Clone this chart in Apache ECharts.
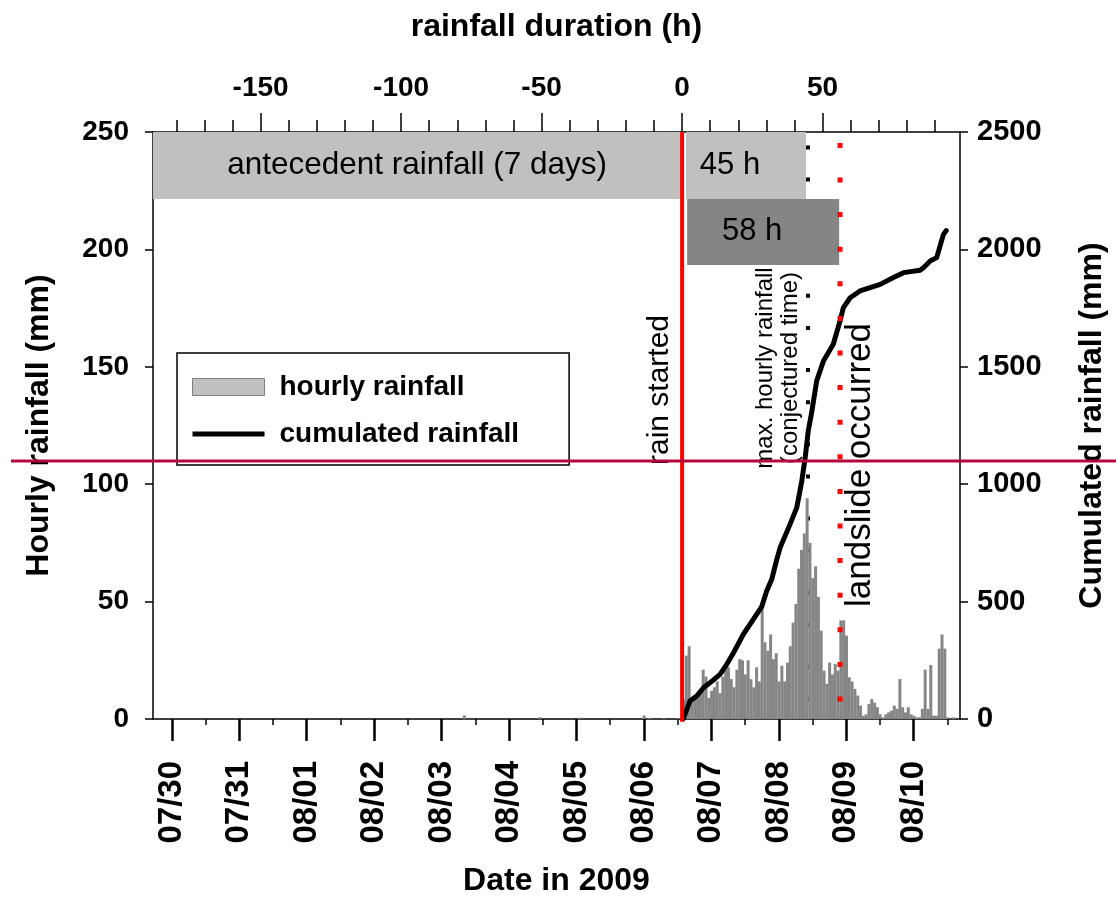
<!DOCTYPE html>
<html><head><meta charset="utf-8">
<script src="https://cdn.jsdelivr.net/npm/echarts@6/dist/echarts.min.js"></script>
<style>html,body{margin:0;padding:0;background:#fff}#c{width:1116px;height:910px}</style>
</head><body><div id="c"></div>
<script>
// ---- data ----
const dateLabels = ['07/30','07/31','08/01','08/02','08/03','08/04','08/05','08/06','08/07','08/08','08/09','08/10'];
const dateTickHours = [0,24,48,72,96,120,144,168,192,216,240,264];          // hours after 07/30 00:00
const halfDayTickHours = [12,36,60,84,108,132,156,180,204,228,252,276];
const durationLabels = [-150,-100,-50,0,50];
const durationMinorTicks = [-180,-170,-160,-140,-130,-120,-110,-90,-80,-70,-60,-40,-30,-20,-10,10,20,30,40,60,70,80,90];
const rainStartHour = 181.6;               // rain start, hours after 07/30 00:00
const durationRange = [-188.3, 98.9];      // visible range, hours relative to rain start
// hourly rainfall (mm), index = hour after rain start
const hourlyRain = [8.5, 27, 31, 8.5, 10, 9, 12, 21, 18, 9,
  12, 13.5, 16, 11, 18, 21, 22, 17, 13.5, 21,
  25.5, 25, 19, 25, 17, 13.5, 22, 16, 50, 32.7,
  29, 36, 25.5, 28, 16, 22.7, 16, 24, 31, 41,
  49, 64, 72, 79, 94, 75, 60, 65, 52, 37.6,
  20.6, 15, 24, 19, 23.4, 20.6, 42, 42, 35.5, 17.8,
  16, 12.8, 10, 5.7, 1.4, 2, 6.4, 8.5, 7, 5,
  2, 0.7, 2, 2.8, 3.5, 5.7, 4.3, 17, 5, 2.8,
  5, 2, 1.4, 0.7, 0.7, 4.3, 21, 4.3, 23, 1.4,
  1.4, 30, 36, 30, 0.7, 0, 0.7];
const antecedentHours = [-78, -51, -37, -14, -12, -7, -2];
const antecedentRain = [1.5, 0.8, 0.6, 1.5, 0.5, 0.3, 0.4];
// cumulated rainfall (mm) vs hours after rain start
const cumHours = [0.4, 2.8, 5.2, 7.6, 10.0, 13.5, 15.9, 18.3, 21.8, 25.4, 28.4, 30.1, 31.9, 33.7, 34.9, 38.4, 40.8, 42.6, 43.8, 44.9, 46.2, 47.9, 50.3, 53.8, 56.2, 57.4, 59.8, 63.3, 66.9, 70.5, 75.2, 78.8, 84.7, 85.9, 88.3, 90.6, 93.0, 94.0];
const cumRain = [0, 77, 98, 133, 155, 190, 233, 282, 361, 425, 480, 545, 595, 680, 730, 829, 900, 1014, 1113, 1227, 1312, 1440, 1525, 1596, 1695, 1752, 1794, 1823, 1837, 1851, 1880, 1901, 1911, 1922, 1951, 1965, 2064, 2080];
const maxHourlyTime = 44.8;
const landslideTime = 56.2;
const anteBox = [-188.3, -0.3, 221.5, 250];
const box45 = [1.4, 44.1, 221.5, 250];
const box58 = [1.8, 55.9, 193.4, 221.5];

// ---- chart ----
const FF = '"Liberation Sans", Arial, sans-serif';
const barData = antecedentHours.map((h, i) => [h + 0.5, antecedentRain[i]])
  .concat(hourlyRain.map((v, i) => [i + 0.5, v]));
const cumData = cumHours.map((h, i) => [h, cumRain[i]]);
const bold = (s) => ({fontSize: s, fontWeight: 'bold', fontFamily: FF, color: '#000'});
const lineBlk = {onZero: false, lineStyle: {color: '#000', width: 1.5}};

const chart = echarts.init(document.getElementById('c'), null, {renderer: 'canvas'});
chart.setOption({
  animation: false,
  backgroundColor: '#fff',
  grid: {left: 153, right: 156, top: 132, bottom: 191, containLabel: false},
  legend: {
    orient: 'vertical', left: 177, top: 353, padding: [20, 50, 17, 15],
    itemWidth: 72, itemHeight: 17, itemGap: 19, selectedMode: false,
    borderColor: '#000', borderWidth: 1.5, backgroundColor: '#fff',
    textStyle: Object.assign(bold(28), {padding: [0, 0, 0, 10]}),
    data: [
      {name: 'hourly rainfall', icon: 'rect', itemStyle: {color: '#c0c0c0', borderColor: '#808080', borderWidth: 1}},
      {name: 'cumulated rainfall', icon: 'path://M0,0H72V5H0Z', itemStyle: {color: '#000', borderWidth: 0}}
    ]
  },
  xAxis: [
    { // bottom: dates
      type: 'value', position: 'bottom', gridIndex: 0,
      min: durationRange[0] + rainStartHour, max: durationRange[1] + rainStartHour,
      name: 'Date in 2009', nameLocation: 'middle', nameGap: 146, nameTextStyle: bold(32),
      axisLine: lineBlk, splitLine: {show: false},
      axisTick: {customValues: dateTickHours, length: 22, inside: false, lineStyle: {color: '#000', width: 2.5}},
      axisLabel: Object.assign(bold(33), {customValues: dateTickHours, rotate: 90, margin: 42,
        formatter: (v) => dateLabels[Math.round(v / 24)]})
    },
    { // bottom: half-day minor ticks
      type: 'value', position: 'bottom', gridIndex: 0,
      min: durationRange[0] + rainStartHour, max: durationRange[1] + rainStartHour,
      axisLine: {show: false, onZero: false}, splitLine: {show: false}, axisLabel: {show: false},
      axisTick: {customValues: halfDayTickHours, length: 6, lineStyle: {color: '#000', width: 1.5}}
    },
    { // top: rainfall duration
      type: 'value', position: 'top', gridIndex: 0,
      min: durationRange[0], max: durationRange[1],
      name: 'rainfall duration (h)', nameLocation: 'middle', nameGap: 89, nameTextStyle: bold(32),
      axisLine: lineBlk, splitLine: {show: false},
      axisTick: {customValues: durationLabels, length: 19, lineStyle: {color: '#000', width: 1.5}},
      axisLabel: Object.assign(bold(28), {customValues: durationLabels, margin: 30})
    },
    { // top: minor ticks
      type: 'value', position: 'top', gridIndex: 0,
      min: durationRange[0], max: durationRange[1],
      axisLine: {show: false, onZero: false}, splitLine: {show: false}, axisLabel: {show: false},
      axisTick: {customValues: durationMinorTicks, length: 12, lineStyle: {color: '#000', width: 1.5}}
    }
  ],
  yAxis: [
    {
      type: 'value', position: 'left', min: 0, max: 250, interval: 50,
      name: 'Hourly rainfall (mm)', nameLocation: 'middle', nameGap: 98, nameRotate: 90, nameTextStyle: bold(32),
      axisLine: {show: true, onZero: false, lineStyle: {color: '#000', width: 1.5}}, splitLine: {show: false},
      axisTick: {show: true, length: 8, lineStyle: {color: '#000', width: 1.5}},
      axisLabel: Object.assign(bold(28), {margin: 24, formatter: (v) => String(v)})
    },
    {
      type: 'value', position: 'right', min: 0, max: 2500, interval: 500,
      name: 'Cumulated rainfall (mm)', nameLocation: 'middle', nameGap: 116, nameRotate: 90, nameTextStyle: bold(32),
      axisLine: {show: true, onZero: false, lineStyle: {color: '#000', width: 1.5}}, splitLine: {show: false},
      axisTick: {show: true, length: 8, lineStyle: {color: '#000', width: 1.5}},
      axisLabel: Object.assign(bold(29), {margin: 17, formatter: (v) => String(v)})
    }
  ],
  series: [
    {
      name: 'hourly rainfall', type: 'bar', xAxisIndex: 2, yAxisIndex: 0, z: 2,
      barWidth: 3, data: barData, large: false,
      itemStyle: {color: '#868686'}
    },
    {
      name: 'cumulated rainfall', type: 'line', xAxisIndex: 2, yAxisIndex: 1, z: 4,
      data: cumData, symbol: 'none', smooth: false,
      lineStyle: {color: '#000', width: 5, join: 'round', cap: 'round'}
    },
    { // black dotted: max hourly rainfall
      type: 'line', xAxisIndex: 2, yAxisIndex: 0, z: 1, symbol: 'none', silent: true,
      data: [[maxHourlyTime, 0], [maxHourlyTime, 250]],
      lineStyle: {color: '#000', width: 4, type: [4, 28.2, 4, 38], dashOffset: 56.2, cap: 'butt'}
    },
    { // red dotted: landslide
      type: 'line', xAxisIndex: 2, yAxisIndex: 0, z: 5, symbol: 'none', silent: true,
      data: [[landslideTime, 0], [landslideTime, 250]],
      lineStyle: {color: '#ff0000', width: 5, type: [5, 29.6], dashOffset: 17.1, cap: 'butt'}
    },
    { // rain started line + boxes
      type: 'line', xAxisIndex: 2, yAxisIndex: 0, z: 6, symbol: 'none', silent: true, clip: false,
      data: [[0, -1.2], [0, 250]],
      lineStyle: {color: '#ff0000', width: 4},
      markArea: {
        silent: true, z: 3,
        label: {show: true, position: 'inside', fontSize: 31, fontFamily: FF, color: '#000'},
        data: [
          [{xAxis: anteBox[0], yAxis: anteBox[2], name: 'antecedent rainfall (7 days)', itemStyle: {color: '#c0c0c0', opacity: 1}, label: {fontSize: 31.5}}, {xAxis: anteBox[1], yAxis: anteBox[3]}],
          [{xAxis: box45[0], yAxis: box45[2], name: '45 h', itemStyle: {color: '#c0c0c0', opacity: 1}, label: {offset: [-16, 0]}}, {xAxis: box45[1], yAxis: box45[3]}],
          [{xAxis: box58[0], yAxis: box58[2], name: '58 h', itemStyle: {color: '#858585', opacity: 1}, label: {offset: [-11, 0]}}, {xAxis: box58[1], yAxis: box58[3]}]
        ]
      }
    }
  ],
  graphic: [
    {type: 'text', x: 660, y: 390, rotation: Math.PI / 2, z: 50,
      style: {text: 'rain started', fontSize: 30, fontFamily: FF, fill: '#000', align: 'center', verticalAlign: 'middle'}},
    {type: 'text', x: 778, y: 368, rotation: Math.PI / 2, z: 50,
      style: {text: 'max. hourly rainfall\n(conjectured time)', fontSize: 24, lineHeight: 25, fontFamily: FF, fill: '#000', align: 'center', verticalAlign: 'middle'}},
    {type: 'text', x: 860, y: 465, rotation: Math.PI / 2, z: 50,
      style: {text: 'landslide occurred', fontSize: 35, fontFamily: FF, fill: '#000', align: 'center', verticalAlign: 'middle'}},
    {type: 'line', z: 100, shape: {x1: 11, y1: 461, x2: 1116, y2: 461}, style: {stroke: '#b5083a', lineWidth: 3}}
  ]
});
</script></body></html>
